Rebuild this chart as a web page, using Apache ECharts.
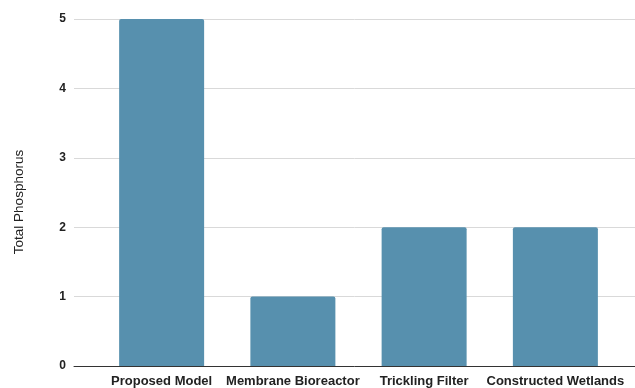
<!DOCTYPE html>
<html>
<head>
<meta charset="utf-8">
<script src="https://cdn.jsdelivr.net/npm/echarts@6/dist/echarts.min.js"></script>
<style>
  html, body { margin: 0; padding: 0; background: #ffffff; }
  #chart { width: 635px; height: 388px; }
</style>
</head>
<body>
<div id="chart"></div>
<script>
// Treatment methods and their total phosphorus values
const categories = ['Proposed Model', 'Membrane Bioreactor', 'Trickling Filter', 'Constructed Wetlands'];
const totalPhosphorus = [5, 1, 2, 2];
const yTicks = [0, 1, 2, 3, 4, 5];

const FONT = '"Liberation Sans", Arial, sans-serif';
const yMin = yTicks[0];
const yMax = yTicks[yTicks.length - 1];

const chart = echarts.init(document.getElementById('chart'));
chart.setOption({
  animation: false,
  backgroundColor: '#ffffff',
  grid: [
    // frame grid: gridlines, y labels, baseline
    { left: 74, right: 0, top: 19, bottom: 22 },
    // bar grid: category bands
    { left: 96, right: 14, top: 19, bottom: 22 }
  ],
  xAxis: [
    {
      gridIndex: 0, type: 'category', data: categories,
      axisLine: { show: true, lineStyle: { color: '#333333', width: 1 } },
      axisTick: { show: false }, axisLabel: { show: false }
    },
    {
      gridIndex: 1, type: 'category', data: categories,
      axisLine: { show: false }, axisTick: { show: false },
      axisLabel: {
        margin: 9, color: '#222222', fontFamily: FONT,
        fontSize: 13, fontWeight: 'bold', interval: 0
      }
    }
  ],
  yAxis: [
    {
      gridIndex: 0, type: 'value', min: yMin, max: yMax, interval: 1,
      name: 'Total Phosphorus', nameLocation: 'middle', nameGap: 48,
      nameTextStyle: {
        color: '#222222', fontFamily: FONT, fontSize: 13.5,
        padding: [0, 19, 0, 0]
      },
      axisLine: { show: false }, axisTick: { show: false },
      axisLabel: { margin: 8, color: '#222222', fontFamily: FONT, fontSize: 12, fontWeight: 'bold' },
      splitLine: { show: true, lineStyle: { color: '#d9d9d9', width: 1 } }
    },
    {
      gridIndex: 1, type: 'value', min: yMin, max: yMax, interval: 1,
      show: false, splitLine: { show: false }
    }
  ],
  series: [
    {
      type: 'bar', xAxisIndex: 1, yAxisIndex: 1,
      data: totalPhosphorus,
      barWidth: 85,
      itemStyle: { color: '#5790ae', borderRadius: [2, 2, 0, 0] }
    }
  ]
});
</script>
</body>
</html>
